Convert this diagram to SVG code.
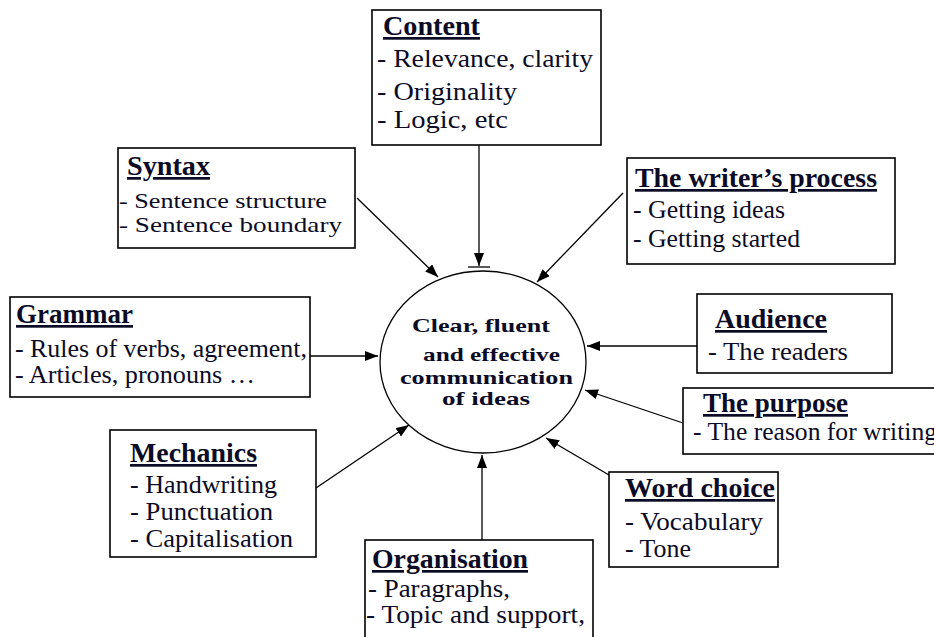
<svg xmlns="http://www.w3.org/2000/svg" width="934" height="637" viewBox="0 0 934 637">
<style>
.box{fill:#fff;stroke:#000;stroke-width:1.6}
.t{font-family:"Liberation Serif","Times New Roman",serif;fill:#0b0b26}
.h{font-size:27px;font-weight:bold;text-decoration:underline}
.b{font-size:25px}
.s{font-size:22px}
.c{font-size:19px;font-weight:bold}
.ln{stroke:#000;stroke-width:1.3;fill:none}
</style>
<defs>
<marker id="ah" markerUnits="userSpaceOnUse" markerWidth="14" markerHeight="12" refX="13" refY="5" orient="auto">
<path d="M0,0 L13,5 L0,10 z" fill="#000"/>
</marker>
</defs>
<rect width="934" height="637" fill="#fff"/>
<g id="connectors">
<line class="ln" x1="479" y1="145" x2="479" y2="266" marker-end="url(#ah)"/>
<line class="ln" x1="468" y1="267" x2="490" y2="267"/>
<line class="ln" x1="357" y1="198" x2="438" y2="277" marker-end="url(#ah)"/>
<line class="ln" x1="623" y1="193" x2="537" y2="282" marker-end="url(#ah)"/>
<line class="ln" x1="310" y1="356" x2="378" y2="356" marker-end="url(#ah)"/>
<line class="ln" x1="697" y1="346" x2="587" y2="346" marker-end="url(#ah)"/>
<line class="ln" x1="683" y1="423" x2="585" y2="390" marker-end="url(#ah)"/>
<line class="ln" x1="316" y1="488" x2="409" y2="425" marker-end="url(#ah)"/>
<line class="ln" x1="482" y1="540" x2="482" y2="455" marker-end="url(#ah)"/>
<line class="ln" x1="609" y1="475" x2="546" y2="438" marker-end="url(#ah)"/>
</g>
<g id="center">
<ellipse cx="483" cy="362" rx="103" ry="91" fill="#fff" stroke="#000" stroke-width="1.3"/>
<text class="t c" x="412" y="332" textLength="138" lengthAdjust="spacingAndGlyphs">Clear, fluent</text>
<text class="t c" x="423" y="361" textLength="137" lengthAdjust="spacingAndGlyphs">and effective</text>
<text class="t c" x="400" y="384" textLength="173" lengthAdjust="spacingAndGlyphs">communication</text>
<text class="t c" x="442" y="405" textLength="88" lengthAdjust="spacingAndGlyphs">of ideas</text>
</g>
<g id="content">
<rect class="box" x="372" y="10" width="229" height="135"/>
<text class="t h" x="383" y="35" textLength="97" lengthAdjust="spacingAndGlyphs">Content</text>
<text class="t b" x="377" y="67" textLength="216" lengthAdjust="spacingAndGlyphs">- Relevance, clarity</text>
<text class="t b" x="377" y="100" textLength="140" lengthAdjust="spacingAndGlyphs">- Originality</text>
<text class="t b" x="377" y="128" textLength="131" lengthAdjust="spacingAndGlyphs">- Logic, etc</text>
</g>
<g id="syntax">
<rect class="box" x="118" y="148" width="237" height="100"/>
<text class="t h" x="127" y="175" textLength="83" lengthAdjust="spacingAndGlyphs">Syntax</text>
<text class="t s" x="119" y="208" textLength="208" lengthAdjust="spacingAndGlyphs">- Sentence structure</text>
<text class="t s" x="119" y="232" textLength="223" lengthAdjust="spacingAndGlyphs">- Sentence boundary</text>
</g>
<g id="writer">
<rect class="box" x="627" y="158" width="268" height="106"/>
<text class="t h" x="635" y="187" textLength="242" lengthAdjust="spacingAndGlyphs">The writer’s process</text>
<text class="t b" x="633" y="218" textLength="152" lengthAdjust="spacingAndGlyphs">- Getting ideas</text>
<text class="t b" x="633" y="247" textLength="167" lengthAdjust="spacingAndGlyphs">- Getting started</text>
</g>
<g id="grammar">
<rect class="box" x="10" y="297" width="300" height="100"/>
<text class="t h" x="16" y="323" textLength="117" lengthAdjust="spacingAndGlyphs">Grammar</text>
<text class="t b" x="15" y="357" textLength="292" lengthAdjust="spacingAndGlyphs">- Rules of verbs, agreement,</text>
<text class="t b" x="15" y="383" textLength="240" lengthAdjust="spacingAndGlyphs">- Articles, pronouns …</text>
</g>
<g id="audience">
<rect class="box" x="697" y="294" width="195" height="79"/>
<text class="t h" x="715" y="328" textLength="112" lengthAdjust="spacingAndGlyphs">Audience</text>
<text class="t b" x="708" y="360" textLength="140" lengthAdjust="spacingAndGlyphs">- The readers</text>
</g>
<g id="purpose">
<rect class="box" x="683" y="388" width="260" height="66"/>
<text class="t h" x="703" y="412" textLength="145" lengthAdjust="spacingAndGlyphs">The purpose</text>
<text class="t b" x="693" y="440" textLength="244" lengthAdjust="spacingAndGlyphs">- The reason for writing</text>
</g>
<g id="mechanics">
<rect class="box" x="110" y="430" width="206" height="127"/>
<text class="t h" x="130" y="462" textLength="127" lengthAdjust="spacingAndGlyphs">Mechanics</text>
<text class="t b" x="130" y="493" textLength="147" lengthAdjust="spacingAndGlyphs">- Handwriting</text>
<text class="t b" x="130" y="520" textLength="143" lengthAdjust="spacingAndGlyphs">- Punctuation</text>
<text class="t b" x="130" y="547" textLength="163" lengthAdjust="spacingAndGlyphs">- Capitalisation</text>
</g>
<g id="organisation">
<rect class="box" x="365" y="540" width="228" height="110"/>
<text class="t h" x="372" y="568" textLength="156" lengthAdjust="spacingAndGlyphs">Organisation</text>
<text class="t b" x="368" y="597" textLength="142" lengthAdjust="spacingAndGlyphs">- Paragraphs,</text>
<text class="t b" x="366" y="623" textLength="219" lengthAdjust="spacingAndGlyphs">- Topic and support,</text>
</g>
<g id="wordchoice">
<rect class="box" x="609" y="472" width="169" height="95"/>
<text class="t h" x="625" y="497" textLength="150" lengthAdjust="spacingAndGlyphs">Word choice</text>
<text class="t b" x="625" y="530" textLength="138" lengthAdjust="spacingAndGlyphs">- Vocabulary</text>
<text class="t b" x="625" y="557" textLength="66" lengthAdjust="spacingAndGlyphs">- Tone</text>
</g>
</svg>
